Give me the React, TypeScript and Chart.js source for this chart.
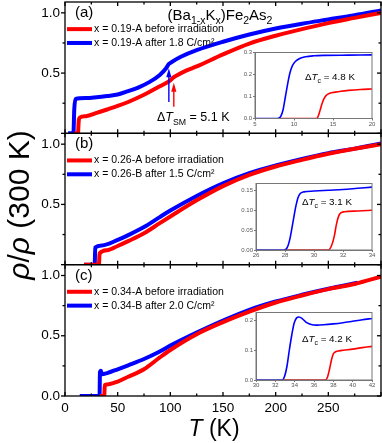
import React, { useEffect, useRef } from 'react';
import { Chart, registerables } from 'chart.js';

Chart.register(...registerables);

const FONT = '"Liberation Sans", Arial, Helvetica, sans-serif';
const RED = '#ff0000';
const BLUE = '#0000ff';

// ---------- main panels: temperature (K) and normalized resistivity ----------
// (a) x = 0.19
const aRedT = [9, 12.3, 13.0, 14, 20, 30, 40, 50, 60, 75, 90, 100, 103, 106, 115, 125, 150, 175, 200, 225, 250, 275, 300];
const aRedV = [0, 0, 0.10, 0.13, 0.142, 0.17, 0.198, 0.227, 0.26, 0.32, 0.39, 0.44, 0.465, 0.48, 0.52, 0.555, 0.655, 0.745, 0.81, 0.865, 0.915, 0.958, 1.0];
const aBlueT = [3, 8.0, 8.8, 10, 20, 30, 40, 50, 60, 70, 80, 90, 96, 98.5, 101, 110, 125, 150, 175, 200, 225, 250, 275, 300];
const aBlueV = [0, 0, 0.2, 0.285, 0.293, 0.3, 0.31, 0.322, 0.35, 0.382, 0.425, 0.485, 0.54, 0.575, 0.59, 0.635, 0.69, 0.76, 0.82, 0.87, 0.91, 0.945, 0.98, 1.02];
// (b) x = 0.26
const bRedT = [18, 32.2, 32.8, 40, 50, 60, 75, 90, 100, 125, 150, 175, 200, 225, 250, 275, 300];
const bRedV = [0, 0, 0.093, 0.12, 0.155, 0.195, 0.26, 0.345, 0.40, 0.534, 0.652, 0.745, 0.815, 0.87, 0.92, 0.962, 1.0];
const bBlueT = [18, 28.2, 28.7, 35, 50, 60, 75, 90, 100, 125, 150, 175, 200, 225, 250, 275, 300];
const bBlueV = [0, 0, 0.143, 0.16, 0.205, 0.245, 0.312, 0.395, 0.449, 0.57, 0.675, 0.759, 0.823, 0.878, 0.926, 0.963, 1.005];
// (c) x = 0.34
const cRedT = [33, 37.2, 37.8, 40, 50, 60, 75, 90, 100, 125, 150, 175, 200, 225, 250, 275, 300];
const cRedV = [0, 0, 0.09, 0.095, 0.12, 0.16, 0.222, 0.32, 0.382, 0.513, 0.613, 0.70, 0.776, 0.834, 0.887, 0.93, 0.99];
const cBlueT = [14, 32.8, 33.2, 34, 35, 40, 50, 60, 75, 90, 100, 125, 150, 175, 200, 225, 250, 278];
const cBlueV = [0, 0, 0.2, 0.21, 0.18, 0.19, 0.222, 0.255, 0.307, 0.37, 0.418, 0.526, 0.626, 0.715, 0.784, 0.84, 0.89, 0.94];

// ---------- insets ----------
const iaRedT = [8, 12.9, 13.1, 13.35, 13.6, 13.85, 14.1, 14.6, 15.3, 16, 17, 18.5, 20];
const iaRedV = [0, 0, 0.01, 0.038, 0.068, 0.09, 0.104, 0.115, 0.12, 0.124, 0.128, 0.132, 0.134];
const iaBlueT = [5, 7.9, 8.3, 8.6, 8.9, 9.2, 9.5, 9.8, 10.2, 10.8, 11.5, 12.5, 14, 17, 20];
const iaBlueV = [0, 0, 0.01, 0.04, 0.1, 0.16, 0.21, 0.24, 0.26, 0.274, 0.281, 0.285, 0.287, 0.288, 0.289];

const ibRedT = [28, 31.0, 31.2, 31.4, 31.55, 31.7, 31.85, 32.1, 33, 34];
const ibRedV = [0, 0, 0.01, 0.035, 0.065, 0.085, 0.093, 0.096, 0.098, 0.1];
const ibBlueT = [26, 27.9, 28.15, 28.35, 28.55, 28.75, 28.9, 29.05, 29.3, 30, 31, 32, 33, 34];
const ibBlueV = [0, 0, 0.006, 0.03, 0.07, 0.11, 0.132, 0.142, 0.146, 0.148, 0.15, 0.152, 0.155, 0.158];

const icRedT = [32.8, 37.2, 37.4, 37.6, 37.8, 38.0, 38.25, 38.6, 39, 40, 41, 42];
const icRedV = [0, 0, 0.01, 0.035, 0.066, 0.087, 0.094, 0.097, 0.099, 0.103, 0.108, 0.112];
const icBlueT = [30, 32.7, 32.95, 33.2, 33.45, 33.7, 33.95, 34.2, 34.45, 34.8, 35.2, 35.7, 36.3, 37, 38, 39, 40, 41, 42];
const icBlueV = [0, 0, 0.012, 0.045, 0.1, 0.15, 0.19, 0.207, 0.21, 0.204, 0.192, 0.185, 0.183, 0.184, 0.187, 0.191, 0.196, 0.201, 0.205];

// ---------- text ----------
const panelLabels = ['(a)', '(b)', '(c)'];
const legendRed = ['x = 0.19-A before irradiation', 'x = 0.26-A before irradiation', 'x = 0.34-A before irradiation'];
const legendBlue = ['x = 0.19-A after 1.8 C/cm\u00b2', 'x = 0.26-B after 1.5 C/cm\u00b2', 'x = 0.34-B after 2.0 C/cm\u00b2'];
const xTickValues = [0, 50, 100, 150, 200, 250];
const xTickLabels = ['0', '50', '100', '150', '200', '250'];
const yTickValues = [0, 0.5, 1.0];
const yTickLabels = ['0.0', '0.5', '1.0'];
const insetDeltaTc = ['4.8 K', '3.1 K', '4.2 K'];
const smDelta = '5.1 K';

type Part = { t: string; it?: boolean; sub?: boolean; sup?: boolean };

function drawRich(ctx: CanvasRenderingContext2D, parts: Part[], x: number, y: number, size: number, align: string) {
  const fontFor = (p: Part) => `${p.it ? 'italic ' : ''}${p.sub || p.sup ? size * 0.7 : size}px ${FONT}`;
  let w = 0;
  for (const p of parts) { ctx.font = fontFor(p); w += ctx.measureText(p.t).width; }
  let cx = align === 'center' ? x - w / 2 : align === 'right' ? x - w : x;
  ctx.textAlign = 'left';
  ctx.textBaseline = 'alphabetic';
  for (const p of parts) {
    ctx.font = fontFor(p);
    const dy = p.sub ? size * 0.3 : p.sup ? -size * 0.4 : 0;
    ctx.fillText(p.t, cx, y + dy);
    cx += ctx.measureText(p.t).width;
  }
}

const pts = (T: number[], V: number[]) => T.map((t, i) => ({ x: t, y: V[i] }));

const lineDs = (T: number[], V: number[], color: string, axis: string, width: number) => ({
  data: pts(T, V),
  borderColor: color,
  backgroundColor: color,
  borderWidth: width,
  pointRadius: 0,
  cubicInterpolationMode: 'monotone' as const,
  yAxisID: axis,
  fill: false,
});

const noPad = (s: any) => { s.paddingTop = 0; s.paddingBottom = 0; s.paddingLeft = 0; s.paddingRight = 0; };

const mainDecor = {
  id: 'mainDecor',
  afterDraw(chart: any) {
    const ctx: CanvasRenderingContext2D = chart.ctx;
    const { left, right } = chart.chartArea;
    const xs = chart.scales.x;
    const panels = [chart.scales.yA, chart.scales.yB, chart.scales.yC];
    ctx.save();
    ctx.strokeStyle = '#000';
    ctx.fillStyle = '#000';
    ctx.lineWidth = 1.3;
    const seg = (x1: number, y1: number, x2: number, y2: number) => {
      ctx.beginPath(); ctx.moveTo(x1, y1); ctx.lineTo(x2, y2); ctx.stroke();
    };
    panels.forEach((s: any) => {
      ctx.strokeRect(left, s.top, right - left, s.bottom - s.top);
      for (let k = 0; k <= 4; k++) {
        const y = s.getPixelForValue(k * 0.25);
        const major = k % 2 === 0;
        const L = major ? 4 : 2.5;
        seg(left - L, y, left, y);
        seg(right - L, y, right, y);
      }
    });
    const b = [panels[0].top, panels[0].bottom, panels[1].bottom, panels[2].bottom];
    for (let T = 0; T <= 300; T += 25) {
      const x = xs.getPixelForValue(T);
      const L = T % 50 === 0 ? 4 : 2.5;
      seg(x, b[0], x, b[0] + L);
      seg(x, b[1] - L, x, b[1] + L);
      seg(x, b[2] - L, x, b[2] + L);
      seg(x, b[3] - L, x, b[3]);
    }

    // panel labels and legends
    panels.forEach((s: any, i: number) => {
      ctx.font = `15px ${FONT}`;
      ctx.textAlign = 'left';
      ctx.textBaseline = 'middle';
      ctx.fillStyle = '#000';
      ctx.fillText(panelLabels[i], 75, s.getPixelForValue(1.0));
      const yR = s.getPixelForValue(0.865);
      const yB = s.getPixelForValue(0.75);
      ctx.lineWidth = 4;
      ctx.strokeStyle = RED; seg(67, yR, 92, yR);
      ctx.strokeStyle = BLUE; seg(67, yB, 92, yB);
      ctx.font = `10.5px ${FONT}`;
      ctx.fillText(legendRed[i], 94, yR);
      ctx.fillText(legendBlue[i], 94, yB);
    });

    // formula
    ctx.fillStyle = '#000';
    drawRich(ctx, [
      { t: '(Ba' }, { t: '1-x', sub: true }, { t: 'K' }, { t: 'x', sub: true },
      { t: ')Fe' }, { t: '2', sub: true }, { t: 'As' }, { t: '2', sub: true },
    ], 220, 19.5, 15, 'center');

    // arrows in panel (a)
    const yA = panels[0];
    const arrow = (T: number, from: number, to: number, color: string) => {
      const x = xs.getPixelForValue(T);
      const y0 = yA.getPixelForValue(from);
      const y1 = yA.getPixelForValue(to);
      ctx.strokeStyle = color; ctx.fillStyle = color; ctx.lineWidth = 1.4;
      seg(x, y0, x, y1 + 8);
      ctx.beginPath(); ctx.moveTo(x, y1); ctx.lineTo(x - 2.6, y1 + 9); ctx.lineTo(x + 2.6, y1 + 9); ctx.closePath(); ctx.fill();
    };
    arrow(98.6, 0.26, 0.54, BLUE);
    arrow(103.3, 0.22, 0.42, RED);
    ctx.fillStyle = '#000';
    drawRich(ctx, [{ t: '\u0394' }, { t: 'T', it: true }, { t: 'SM', sub: true }, { t: ' = ' + smDelta }], 157, 121, 12.5, 'left');

    // axis titles
    drawRich(ctx, [{ t: 'T', it: true }, { t: ' (K)' }], 214, 436, 23, 'center');
    ctx.save();
    ctx.translate(29, 205);
    ctx.rotate(-Math.PI / 2);
    drawRich(ctx, [{ t: '\u03c1', it: true }, { t: '/' }, { t: '\u03c1', it: true }, { t: ' (300 K)' }], 0, 0, 30, 'center');
    ctx.restore();
    ctx.restore();
  },
};

function yAxis(showZero: boolean) {
  return {
    type: 'linear' as const,
    position: 'left' as const,
    stack: 'panels',
    stackWeight: 1,
    min: 0,
    max: 1.09,
    afterBuildTicks: (s: any) => { s.ticks = yTickValues.map((v) => ({ value: v })); },
    afterFit: (s: any) => { s.width = 65; noPad(s); },
    grid: { display: false, drawTicks: false },
    border: { display: false },
    ticks: {
      autoSkip: false,
      padding: 5,
      color: '#000',
      font: { family: FONT, size: 13.5 },
      callback: (_v: number, i: number) => (i === 0 && !showZero ? '' : yTickLabels[i]),
    },
  };
}

function mainConfig(): any {
  return {
    type: 'line',
    data: {
      datasets: [
        lineDs(aRedT, aRedV, RED, 'yA', 4),
        lineDs(aBlueT, aBlueV, BLUE, 'yA', 4),
        lineDs(bRedT, bRedV, RED, 'yB', 4),
        lineDs(bBlueT, bBlueV, BLUE, 'yB', 4),
        lineDs(cRedT, cRedV, RED, 'yC', 4),
        lineDs(cBlueT, cBlueV, BLUE, 'yC', 4),
      ],
    },
    options: {
      animation: false,
      responsive: false,
      events: [],
      layout: { padding: { left: 0, top: 2, right: 1, bottom: 0 } },
      plugins: { legend: { display: false }, tooltip: { enabled: false } },
      scales: {
        x: {
          type: 'linear',
          position: 'bottom',
          min: 0,
          max: 300,
          afterBuildTicks: (s: any) => { s.ticks = xTickValues.map((v) => ({ value: v })); },
          afterFit: (s: any) => { s.height = 47; noPad(s); },
          grid: { display: false, drawTicks: false },
          border: { display: false },
          ticks: {
            autoSkip: false,
            maxRotation: 0,
            padding: 4,
            color: '#000',
            font: { family: FONT, size: 13.5 },
            callback: (_v: number, i: number) => xTickLabels[i],
          },
        },
        yC: yAxis(true),
        yB: yAxis(false),
        yA: yAxis(false),
      },
    },
    plugins: [mainDecor],
  };
}

type InsetSpec = {
  redT: number[]; redV: number[]; blueT: number[]; blueV: number[];
  xMin: number; xMax: number; xStep: number; yMax: number; yStep: number; yDigits: number;
  box: { left: number; top: number; right: number; bottom: number };
  label: string; labelX: number; labelY: number;
};

const insets: InsetSpec[] = [
  { redT: iaRedT, redV: iaRedV, blueT: iaBlueT, blueV: iaBlueV, xMin: 5, xMax: 20, xStep: 5, yMax: 0.3, yStep: 0.1, yDigits: 1,
    box: { left: 255, top: 52.5, right: 372, bottom: 118.5 }, label: insetDeltaTc[0], labelX: 305, labelY: 80 },
  { redT: ibRedT, redV: ibRedV, blueT: ibBlueT, blueV: ibBlueV, xMin: 26, xMax: 34, xStep: 2, yMax: 0.167, yStep: 0.05, yDigits: 2,
    box: { left: 256, top: 183.5, right: 372, bottom: 250 }, label: insetDeltaTc[1], labelX: 302, labelY: 205 },
  { redT: icRedT, redV: icRedV, blueT: icBlueT, blueV: icBlueV, xMin: 30, xMax: 42, xStep: 2, yMax: 0.225, yStep: 0.1, yDigits: 1,
    box: { left: 256, top: 312.5, right: 372, bottom: 380 }, label: insetDeltaTc[2], labelX: 302, labelY: 342 },
];

function insetConfig(sp: InsetSpec): any {
  const yw = 20;
  const xh = 10;
  const decor = {
    id: 'insetDecor',
    beforeDraw(chart: any) {
      const ctx: CanvasRenderingContext2D = chart.ctx;
      const a = chart.chartArea;
      ctx.save();
      ctx.fillStyle = '#fff';
      ctx.fillRect(a.left, a.top, a.right - a.left, a.bottom - a.top);
      ctx.restore();
    },
    afterDraw(chart: any) {
      const ctx: CanvasRenderingContext2D = chart.ctx;
      const a = chart.chartArea;
      ctx.save();
      ctx.strokeStyle = '#777';
      ctx.lineWidth = 1;
      ctx.strokeRect(a.left, a.top, a.right - a.left, a.bottom - a.top);
      ctx.fillStyle = '#000';
      drawRich(ctx, [{ t: '\u0394' }, { t: 'T', it: true }, { t: 'c', sub: true }, { t: ' = ' + sp.label }], sp.labelX, sp.labelY, 9.8, 'left');
      ctx.restore();
    },
  };
  return {
    type: 'line',
    data: {
      datasets: [
        lineDs(sp.blueT, sp.blueV, BLUE, 'y', 1.6),
        lineDs(sp.redT, sp.redV, RED, 'y', 1.6),
      ],
    },
    options: {
      animation: false,
      responsive: false,
      events: [],
      layout: { padding: { left: sp.box.left - yw, top: sp.box.top, right: 382 - sp.box.right, bottom: 443 - sp.box.bottom - xh } },
      plugins: { legend: { display: false }, tooltip: { enabled: false } },
      scales: {
        x: {
          type: 'linear',
          min: sp.xMin,
          max: sp.xMax,
          afterFit: (s: any) => { s.height = xh; noPad(s); },
          grid: { drawOnChartArea: false, tickLength: 2, color: '#777' },
          border: { color: '#777' },
          ticks: { stepSize: sp.xStep, autoSkip: false, maxRotation: 0, padding: 0, color: '#555', font: { family: FONT, size: 6 } },
        },
        y: {
          type: 'linear',
          min: 0,
          max: sp.yMax,
          afterFit: (s: any) => { s.width = yw; noPad(s); },
          grid: { drawOnChartArea: false, tickLength: 2, color: '#777' },
          border: { color: '#777' },
          ticks: {
            stepSize: sp.yStep,
            autoSkip: false,
            includeBounds: false,
            padding: 1,
            color: '#555',
            font: { family: FONT, size: 6 },
            callback: (v: number) => {
              const k = Math.round(v / sp.yStep);
              return Math.abs(v / sp.yStep - k) < 1e-6 ? v.toFixed(sp.yDigits) : '';
            },
          },
        },
      },
    },
    plugins: [decor],
  };
}

export default function App() {
  const mainRef = useRef<HTMLCanvasElement>(null);
  const r0 = useRef<HTMLCanvasElement>(null);
  const r1 = useRef<HTMLCanvasElement>(null);
  const r2 = useRef<HTMLCanvasElement>(null);
  useEffect(() => {
    const charts: Chart[] = [];
    charts.push(new Chart(mainRef.current as HTMLCanvasElement, mainConfig()));
    [r0, r1, r2].forEach((r, i) => {
      charts.push(new Chart(r.current as HTMLCanvasElement, insetConfig(insets[i])));
    });
    return () => charts.forEach((c) => c.destroy());
  }, []);
  const cs: React.CSSProperties = { position: 'absolute', left: 0, top: 0, width: 382, height: 443 };
  return (
    <div style={{ position: 'absolute', left: 0, top: 0, width: 382, height: 443, background: '#fff' }}>
      <canvas ref={mainRef} width={382} height={443} style={cs} />
      <canvas ref={r0} width={382} height={443} style={cs} />
      <canvas ref={r1} width={382} height={443} style={cs} />
      <canvas ref={r2} width={382} height={443} style={cs} />
    </div>
  );
}
